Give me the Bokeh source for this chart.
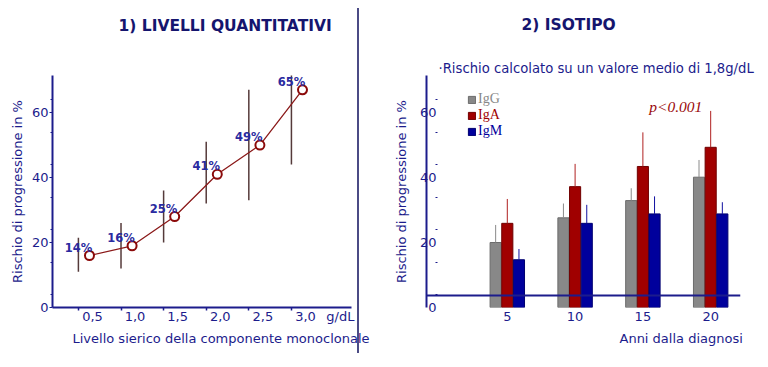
from bokeh.plotting import figure
from bokeh.layouts import row
from bokeh.models import (Range1d, FixedTicker, Label, Span, Legend, LegendItem,
                          ColumnDataSource, Div, Title)
from bokeh.transform import dodge
from bokeh.embed import file_html
from bokeh.resources import INLINE
from bokeh.core.properties import value

# ---------------- data: panel 1 ----------------
levels = [0.5, 1.0, 1.5, 2.0, 2.5, 3.0]
level_labels = ["0,5", "1,0", "1,5", "2,0", "2,5", "3,0"]
risk_labels = ["14%", "16%", "25%", "41%", "49%", "65%"]
risk_plot = [16, 19, 28, 41, 50, 67]
risk_low = [11, 12, 20, 32, 33, 44]
risk_high = [21.5, 26, 36, 51, 67, 72]

# ---------------- data: panel 2 ----------------
years = [5, 10, 15, 20]
year_labels = ["5", "10", "15", "20"]
igg = [20, 27.6, 32.9, 40.1]
iga = [25.9, 37.2, 43.4, 49.3]
igm = [14.7, 25.9, 28.8, 28.8]
igg_up = [25.4, 32, 36.7, 45.4]
iga_up = [33.4, 44.2, 53.9, 60.5]
igm_up = [18, 31.6, 34.2, 32.4]

y_ticks = [0, 20, 40, 60]
y_minor = [4, 14, 24, 34, 44, 54, 64]

NAVY = "#1c1c8c"
TITLE = "#15156e"
FONT = "DejaVu Sans"
SERIF = "Liberation Serif"
GRAY = "#888888"
RED = "#a00000"
BLUE = "#00009c"


def spacer(h):
    return Title(text=" ", text_font_size="1px", standoff=h)


# ---------------- panel 1 ----------------
p1 = figure(width=380, height=367, x_range=Range1d(0.031, 3.54), y_range=Range1d(0, 71.4),
            output_backend="svg", toolbar_location=None,
            min_border_left=52, min_border_right=29, min_border_top=75, min_border_bottom=60)
p1.outline_line_color = None
p1.grid.visible = False

p1.title.text = "1)  LIVELLI  QUANTITATIVI"
p1.title.align = "left"
p1.title.offset = 66
p1.title.standoff = 2
p1.title.text_font = FONT
p1.title.text_font_size = "15.5px"
p1.title.text_font_style = "bold"
p1.title.text_color = TITLE
p1.add_layout(spacer(37), "above")

xa = p1.xaxis[0]
xa.ticker = FixedTicker(ticks=levels + [3.41], minor_ticks=[v - 0.165 for v in levels])
ov = {v: l for v, l in zip(levels, level_labels)}
ov[3.41] = "g/dL"
xa.major_label_overrides = ov
xa.major_tick_line_color = None
xa.major_tick_out = 0
xa.major_tick_in = 0
xa.minor_tick_out = 3
xa.minor_tick_in = 0
xa.minor_tick_line_color = NAVY
xa.minor_tick_line_width = 1.5
xa.axis_line_color = NAVY
xa.axis_line_width = 2
xa.major_label_standoff = -2
xa.major_label_text_font = FONT
xa.major_label_text_font_size = "13px"
xa.major_label_text_color = NAVY

ya = p1.yaxis[0]
ya.ticker = FixedTicker(ticks=y_ticks, minor_ticks=y_minor)
ya.major_tick_out = 3
ya.major_tick_in = 0
ya.minor_tick_out = 2
ya.minor_tick_in = 0
ya.major_tick_line_color = NAVY
ya.minor_tick_line_color = NAVY
ya.axis_line_color = NAVY
ya.axis_line_width = 2
ya.major_label_standoff = 1
ya.major_label_text_font = FONT
ya.major_label_text_font_size = "13px"
ya.major_label_text_color = NAVY
ya.axis_label = "Rischio di progressione in %"
ya.axis_label_standoff = 4
ya.axis_label_text_font = FONT
ya.axis_label_text_font_size = "13px"
ya.axis_label_text_font_style = "normal"
ya.axis_label_text_color = NAVY

p1.add_layout(Title(text="Livello sierico della componente monoclonale", align="left",
                    offset=20, standoff=4, text_font=FONT, text_font_size="13px",
                    text_font_style="normal", text_color=NAVY), "below")

src1 = ColumnDataSource(dict(x=levels, y=risk_plot, lo=risk_low, hi=risk_high, lab=risk_labels))
p1.segment(x0=dodge('x', -0.165), y0='lo', x1=dodge('x', -0.165), y1='hi', source=src1,
           line_color="#553a3a", line_width=1.5)
p1.line(x=dodge('x', -0.035), y='y', source=src1, line_color="#8b1a1a", line_width=1.3)
p1.scatter(x=dodge('x', -0.035), y='y', source=src1, size=9, fill_color="white",
           line_color="#8b0a0a", line_width=2)
p1.text(x=dodge('x', -0.165), y='y', text='lab', source=src1, y_offset=-8,
        text_align="center", text_baseline="middle", text_font=value(FONT),
        text_font_size="11.5px", text_font_style="bold", text_color="#2a2aa0")

# ---------------- separator (overlaps the right edge of panel 1) ----------------
sep = Div(width=2, height=345, margin=(8, 21, 0, -23), styles={"background-color": "#4b4b85"})

# ---------------- panel 2 ----------------
p2 = figure(width=388, height=367, x_range=Range1d(-0.96, 22.2), y_range=Range1d(0, 71.4),
            output_backend="svg", toolbar_location=None,
            min_border_left=46, min_border_right=28, min_border_top=75, min_border_bottom=60)
p2.outline_line_color = None
p2.grid.visible = False

p2.title.text = "2)  ISOTIPO"
p2.title.align = "left"
p2.title.offset = 95
p2.title.standoff = 2
p2.title.text_font = FONT
p2.title.text_font_size = "15.5px"
p2.title.text_font_style = "bold"
p2.title.text_color = TITLE
p2.add_layout(Title(text="\u00b7Rischio calcolato su un valore medio di  1,8g/dL", align="left",
                    offset=12, standoff=0, text_font=FONT, text_font_size="13.2px",
                    text_font_style="normal", text_color=NAVY), "above")
p2.add_layout(spacer(21), "above")

xb = p2.xaxis[0]
xb.ticker = FixedTicker(ticks=years)
xb.major_label_overrides = {v: l for v, l in zip(years, year_labels)}
xb.axis_line_color = None
xb.major_tick_line_color = None
xb.minor_tick_line_color = None
xb.major_tick_out = 0
xb.major_label_standoff = 4
xb.major_label_text_font = FONT
xb.major_label_text_font_size = "13px"
xb.major_label_text_color = NAVY

p2.add_layout(Title(text="Anni dalla diagnosi", align="left", offset=193, standoff=10,
                    text_font=FONT, text_font_size="13px", text_font_style="normal",
                    text_color=NAVY), "below")

yb = p2.yaxis[0]
yb.ticker = FixedTicker(ticks=y_ticks, minor_ticks=y_minor)
yb.major_tick_line_color = None
yb.major_tick_out = 0
yb.major_tick_in = 0
yb.minor_tick_line_color = NAVY
yb.minor_tick_out = -9
yb.minor_tick_in = 11
yb.axis_line_color = NAVY
yb.axis_line_width = 2
yb.major_label_standoff = -10
yb.major_label_text_font = FONT
yb.major_label_text_font_size = "13px"
yb.major_label_text_color = NAVY
yb.axis_label = "Rischio di progressione in %"
yb.axis_label_standoff = 8
yb.axis_label_text_font = FONT
yb.axis_label_text_font_size = "13px"
yb.axis_label_text_font_style = "normal"
yb.axis_label_text_color = NAVY

src2 = ColumnDataSource(dict(year=years, igg=igg, iga=iga, igm=igm,
                             igg_up=igg_up, iga_up=iga_up, igm_up=igm_up))
W = 0.82
OFF = 0.86
rg = p2.vbar(x=dodge('year', -OFF), top='igg', width=W, source=src2, fill_color=GRAY,
             line_color="#6c6c6c", line_width=1)
ra = p2.vbar(x='year', top='iga', width=W, source=src2, fill_color=RED,
             line_color="#700000", line_width=1)
rm = p2.vbar(x=dodge('year', OFF), top='igm', width=W, source=src2, fill_color=BLUE,
             line_color="#000070", line_width=1)
p2.segment(x0=dodge('year', -OFF), y0='igg', x1=dodge('year', -OFF), y1='igg_up', source=src2,
           line_color="#8a8a8a", line_width=1)
p2.segment(x0='year', y0='iga', x1='year', y1='iga_up', source=src2,
           line_color="#b02020", line_width=1)
p2.segment(x0=dodge('year', OFF), y0='igm', x1=dodge('year', OFF), y1='igm_up', source=src2,
           line_color="#1010a0", line_width=1)

p2.add_layout(Span(location=3.7, dimension="width", line_color=NAVY, line_width=2))

for r, name, col, yy in [(rg, "IgG", GRAY, 200), (ra, "IgA", RED, 184), (rm, "IgM", BLUE, 168)]:
    leg = Legend(items=[LegendItem(label=name, renderers=[r])], location=(41, yy),
                 padding=0, margin=0, spacing=0, border_line_color=None,
                 background_fill_alpha=0, glyph_width=9, glyph_height=9, label_height=14,
                 label_standoff=2, label_text_font=SERIF, label_text_font_size="14px",
                 label_text_color=col)
    p2.add_layout(leg)

p2.add_layout(Label(x=17.43, y=62, text="p<0.001", text_align="center", text_baseline="middle",
                    text_font=SERIF, text_font_size="15.5px", text_font_style="italic",
                    text_color="#9a0a0a"))

layout = row(p1, sep, p2)
open("out.html", "w").write(file_html(layout, INLINE))
